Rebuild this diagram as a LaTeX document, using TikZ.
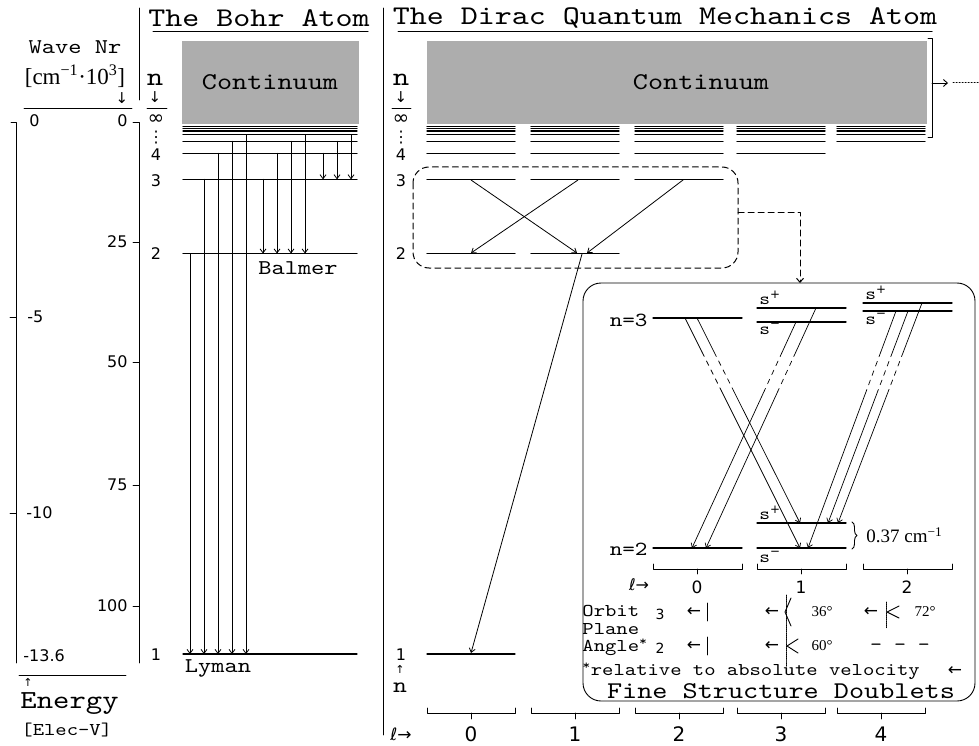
\documentclass[tikz,border=0pt]{standalone}
\usepackage{fontspec}
\setmainfont{lmmono10-regular.otf}[FakeStretch=1.2]
\newfontfamily\sansf{DejaVu Sans}
\newfontfamily\serf{Liberation Serif}
\usetikzlibrary{arrows.meta,calc,decorations.pathreplacing}
\newcommand\fsz[1]{\fontsize{#1}{#1}\selectfont}
\tikzset{
  lvl/.style={line width=1.3pt},
  down/.style={-{Straight Barb[length=4pt,width=6pt]},line width=0.8pt},
  txt/.style={inner sep=0pt,font=\fsz{#1}},
  nums/.style={inner sep=0pt,font=\sansf\fsz{#1}},
  sym/.style={inner sep=0pt,font=\sansf\fsz{#1}},
  rom/.style={inner sep=0pt,font=\serf\fsz{#1}},
  cont/.style={fill=black!32},
  lbrack/.style={line width=0.8pt}
}
\begin{document}
\begin{tikzpicture}[x=1pt,y=-1pt,line width=0.9pt,line cap=round,line join=round]
\useasboundingbox (0,0) rectangle (979,746);
% frames and titles
\draw (139,8) -- (139,100) (383,8) -- (383,735);
\node[txt=27] (tbohr) at (259,18) {The Bohr Atom};
\node[txt=27] (tdirac) at (665,18) {The Dirac Quantum Mechanics Atom};
\draw[line width=1pt] (153,32) -- (368,32) (398,32) -- (932,32);

% left scales
\node[txt=21] (wave) at (75,47) {Wave Nr};
\node[rom=23] (wunit) at (75,76) {[cm\textsuperscript{−1}·10\textsuperscript{3}]};
\node[sym=15] (warr) at (122,98) {↓};
\draw (24,108) -- (132,108);
\draw (11,122) -- (16,122) -- (16,663);
\draw (133,122) -- (139,122) -- (139,663);
\foreach \y in {317,513} \draw (10,\y) -- (16,\y);
\foreach \y in {242,362,485,606} \draw (133,\y) -- (139,\y);
\foreach \y/\t/\x [count=\i] in {121/0/29,317/-5/27,513/-10/26,656/-13.6/23}
  \node[nums=16,anchor=west] (en\i) at (\x,\y) {\t};
\foreach \y/\t [count=\i] in {121/0,242/25,362/50,485/75,606/100}
  \node[nums=16,anchor=east] (wn\i) at (128,\y) {\t};
\draw (19,675) -- (126,675);
\node[sym=11] (earr) at (28,682) {↑};
\node[txt=26,anchor=west] (energy) at (20,704) {Energy};
\node[txt=18,anchor=west] (eunit) at (21,730) {[Elec-V]};

% Bohr atom
\fill[cont] (182,41) rectangle (359,124);
\node[txt=24] (bcont) at (270,82) {Continuum};
\node[txt=26] (bn) at (155,80) {n};
\node[sym=15] (bnarr) at (155,97) {↓};
\draw (147,108) -- (167,108);
\foreach \y/\t/\s [count=\i] in {120/∞/20,138/⋮/16,155/4/16,181/3/16,254/2/16,655/1/16}
  \node[nums=\s] (bl\i) at (156,\y) {\t};
\foreach \n in {1,...,9}{
  \pgfmathsetmacro\yy{120+534/(\n*\n)}
  \draw[lvl] (183,\yy) -- (357,\yy);
}
\foreach \x/\a/\b in {190/2/1,204/3/1,218/4/1,232/5/1,246/6/1,
                     263/3/2,277/4/2,291/5/2,305/6/2,
                     323/4/3,337/5/3,351/6/3}{
  \pgfmathsetmacro\ya{120+534/(\a*\a)}
  \pgfmathsetmacro\yb{120+534/(\b*\b)}
  \draw[down] (\x,\ya) -- (\x,\yb);
}
\node[txt=21] (balmer) at (298,268) {Balmer};
\node[txt=21] (lyman) at (218,668) {Lyman};

% Dirac atom
\fill[cont] (427,41) rectangle (927,124);
\node[txt=24] (dcont) at (701,82) {Continuum};
\draw (928,38) -- (932,38) -- (932,137) -- (928,137);
\draw[-{Straight Barb[length=4pt,width=7pt]}] (932,83) -- (948,83);
\draw[dotted,line width=1pt] (953,83) -- (979,83);
\node[txt=26] (dn) at (401,80) {n};
\node[sym=15] (dnarr) at (401,97) {↓};
\draw (392,108) -- (411,108);
\foreach \y/\t/\s [count=\i] in {120/∞/20,138/⋮/16,155/4/16,181/3/16,254/2/16,655/1/16}
  \node[nums=\s] (dl\i) at (401,\y) {\t};
\node[sym=11] (dnup) at (400,669) {↑};
\node[txt=22] (dnb) at (400,688) {n};
\foreach \x [count=\l from 0] in {427,531,635,737,837}{
  \foreach \n in {1,...,9}{
    \ifnum\n>\l
      \pgfmathsetmacro\yy{120+534/(\n*\n)}
      \draw[lvl] (\x,\yy) -- ({\x+88},\yy);
    \fi
  }
  \draw[lbrack] (\x,708) -- (\x,713) -- ({\x+88},713) -- ({\x+88},708)
    ({\x+44},713) -- ({\x+44},719);
  \node[nums=20] (lab\l) at ({\x+44},734) {\l};
}
\node[sym=17] (ell) at (401,734) {ℓ→};
\draw[down] (471,180) -- (577,253);
\draw[down] (578,180) -- (471,253);
\draw[down] (683,180) -- (587,253);
\draw[down] (582,254) -- (471,653);
\draw[line width=1pt,dash pattern=on 6pt off 4pt,rounded corners=16pt] (413,167) rectangle (738,268);
\draw[line width=1pt,dash pattern=on 6pt off 4pt,-{Straight Barb[length=4pt,width=7pt]}]
  (738,212) -- (800,212) -- (800,283);

% fine structure
\draw[rounded corners=18pt] (583,283) rectangle (975,701);
\draw[lvl] (653,318) -- (742,318) (757,308) -- (846,308) (757,322) -- (846,322)
  (863,303) -- (952,303) (863,311) -- (952,311)
  (653,548) -- (742,548) (757,523) -- (846,523) (757,548) -- (846,548);
\node[txt=20,anchor=east] (n3) at (648,320) {n=3};
\node[txt=20,anchor=east] (n2) at (648,549) {n=2};
\foreach \x/\y/\s [count=\i] in {770/298/+,770/329/−,876/293/+,876/319/−,770/513/+,770/557/−}
  \node[txt=17] (s\i) at (\x,\y) {s\textsuperscript{\sansf\s}};
\foreach \xa/\ya/\xb/\yb in {685/318/800/548,697/318/800/523,
   816/308/706/548,796/322/692/548,
   922/303/838/523,908/311/828/523,896/311/808/548}{
  \pgfmathsetmacro\fa{(352-\ya)/(\yb-\ya)}
  \pgfmathsetmacro\fb{(391-\ya)/(\yb-\ya)}
  \draw[line width=0.7pt] (\xa,\ya) -- ($(\xa,\ya)!\fa!(\xb,\yb)$);
  \draw[line width=0.7pt,dash pattern=on 5pt off 5pt] ($(\xa,\ya)!\fa!(\xb,\yb)$) -- ($(\xa,\ya)!\fb!(\xb,\yb)$);
  \draw[down,line width=0.7pt] ($(\xa,\ya)!\fb!(\xb,\yb)$) -- (\xb,\yb);
}
\draw[decorate,decoration={brace,amplitude=5pt}] (852,522) -- (852,549);
\node[rom=19,anchor=west] (split) at (866,535) {0.37 cm\textsuperscript{−1}};
\foreach \x [count=\i from 0] in {653,757,863}{
  \draw[lbrack] (\x,564) -- (\x,569) -- ({\x+89},569) -- ({\x+89},564)
    ({\x+44},569) -- ({\x+44},574);
  \node[nums=17] (fl\i) at ({\x+44},587) {\i};
}
\node[sym=16] (fell) at (639,585) {ℓ→};
\node[txt=18,anchor=west] (orb) at (582,611) {Orbit};
\node[txt=18,anchor=west] (pla) at (582,629) {Plane};
\node[txt=18,anchor=west] (ang) at (582,647) {Angle\textsuperscript{*}};
\node[nums=14] (j3) at (660,614) {3};
\node[nums=14] (j2) at (660,648) {2};
\node[sym=17] (a1) at (694,612) {←};
\node[sym=17] (a2) at (694,646) {←};
\draw (707,603) -- (707,621) (707,637) -- (707,655);
\node[sym=17] (a3) at (772,612) {←};
\node[sym=17] (a4) at (772,646) {←};
\node[sym=17] (a5) at (871,612) {←};
\draw[densely dotted] (786,595) -- (786,667) (886,602) -- (886,628);
\draw (791,598) -- (785,612) -- (791,626);
\draw (798,639) -- (787,646) -- (798,653);
\draw (899,606) -- (887,612) -- (899,618);
\node[rom=15] (d36) at (822,612) {36°};
\node[rom=15] (d60) at (822,646) {60°};
\node[rom=15] (d72) at (925,612) {72°};
\node[txt=19] (dash) at (900,647) {- - -};
\node[txt=18,anchor=west] (rel) at (582,671) {\textsuperscript{*}relative to absolute velocity};
\node[sym=17] (a6) at (955,671) {←};
\node[txt=24] (fsd) at (781,691) {Fine Structure Doublets};
\end{tikzpicture}
\end{document}
